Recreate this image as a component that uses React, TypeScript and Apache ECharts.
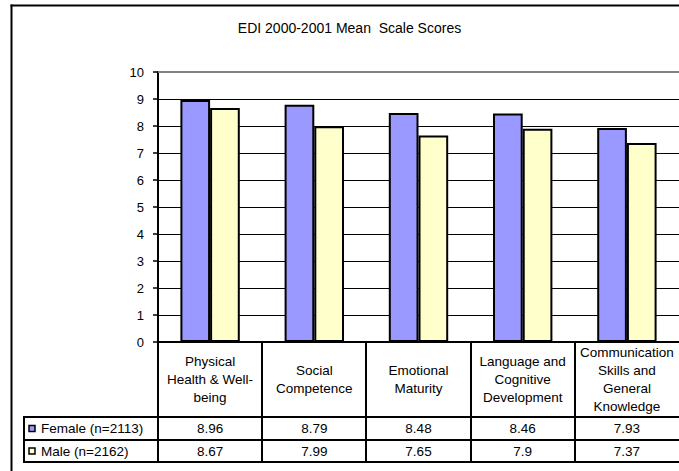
import React, { useEffect, useRef } from "react";
import * as echarts from "echarts";

// Scale names (multi-line as printed in the table header)
const categories = [
  "Physical\nHealth & Well-\nbeing",
  "Social\nCompetence",
  "Emotional\nMaturity",
  "Language and\nCognitive\nDevelopment",
  "Communication\nSkills and\nGeneral\nKnowledge",
];
const femaleScores = [8.96, 8.79, 8.48, 8.46, 7.93];
const maleScores = [8.67, 7.99, 7.65, 7.9, 7.37];
const seriesNames = ["Female (n=2113)", "Male (n=2162)"];
const seriesColors = ["#9999FF", "#FFFFCC"];
const yMin = 0;
const yMax = 10;
const yInterval = 1;
const chartTitle = "EDI 2000-2001 Mean  Scale Scores";

const FONT = "'Liberation Sans', Arial, sans-serif";
const TABLE_FONT_SIZE = 13.5;

export default function App() {
  const ref = useRef<HTMLDivElement>(null);

  useEffect(() => {
    if (!ref.current) return;
    const chart = echarts.init(ref.current, undefined, { renderer: "svg" });

    const gridLeft = 158;
    const gridTop = 72;
    const gridWidth = 523;
    const gridHeight = 270;
    const axisY = gridTop + gridHeight; // 342
    const headerBottom = 417;
    const rowBottoms = [440, 462];
    const tableLeft = 24;
    const pageRight = 679;

    chart.setOption({
      animation: false,
      backgroundColor: "#fff",
      textStyle: { fontFamily: FONT },
      grid: {
        left: gridLeft,
        top: gridTop,
        width: gridWidth,
        height: gridHeight,
        containLabel: false,
      },
      xAxis: {
        type: "category",
        data: categories,
        boundaryGap: true,
        axisLine: { show: true, lineStyle: { color: "#000", width: 2 } },
        axisTick: { show: false },
        axisLabel: {
          interval: 0,
          margin: (headerBottom - axisY) / 2,
          verticalAlign: "middle",
          align: "center",
          color: "#000",
          fontSize: TABLE_FONT_SIZE,
          lineHeight: 18,
          fontFamily: FONT,
        },
        splitLine: { show: false },
      },
      yAxis: {
        type: "value",
        min: yMin,
        max: yMax,
        interval: yInterval,
        axisLine: { show: true, lineStyle: { color: "#000", width: 2 } },
        axisTick: { show: true, length: 5, lineStyle: { color: "#000", width: 1.5 } },
        axisLabel: { color: "#000", fontSize: 13, margin: 14, fontFamily: FONT },
        splitLine: { show: true, lineStyle: { color: "#000", width: 1 } },
      },
      series: [
        {
          name: seriesNames[0],
          type: "bar",
          data: femaleScores,
          barGap: "0%",
          barCategoryGap: "43%",
          itemStyle: { color: seriesColors[0], borderColor: "#000", borderWidth: 2 },
          markLine: {
            silent: true,
            symbol: "none",
            label: { show: false },
            lineStyle: { color: "#808080", width: 2, type: "solid" },
            data: [{ yAxis: yMax }],
          },
        },
        {
          name: seriesNames[1],
          type: "bar",
          data: maleScores,
          barGap: "0%",
          barCategoryGap: "43%",
          itemStyle: { color: seriesColors[1], borderColor: "#000", borderWidth: 2 },
        },
      ],
    });

    // Data table below the axis: column dividers, row labels, legend keys and values
    const rowValues = [femaleScores, maleScores];
    const rowTops = [headerBottom, rowBottoms[0]];
    const centers = categories.map((_, i) => chart.convertToPixel({ xAxisIndex: 0 }, i) as number);
    const band = centers[1] - centers[0];
    const elements: any[] = [];

    const hline = (x1: number, x2: number, y: number) => ({
      type: "line",
      shape: { x1, y1: y, x2, y2: y },
      style: { stroke: "#000", lineWidth: 2 },
      silent: true,
    });
    const vline = (x: number, y1: number, y2: number) => ({
      type: "line",
      shape: { x1: x, y1, x2: x, y2 },
      style: { stroke: "#000", lineWidth: 2 },
      silent: true,
    });

    // outer chart frame (top and left edges)
    elements.push(hline(10.5, pageRight, 5.5));
    elements.push(vline(11.5, 4.5, 471));

    elements.push({
      type: "text",
      x: 349.5,
      y: 28,
      style: {
        text: chartTitle,
        fill: "#000",
        font: `14px ${FONT}`,
        align: "center",
        verticalAlign: "middle",
      },
    });

    // vertical dividers at the category boundaries
    centers.forEach((c) => {
      elements.push(vline(Math.round(c - band / 2), axisY, rowBottoms[1] + 1));
    });

    [headerBottom, ...rowBottoms].forEach((y) => {
      elements.push(hline(tableLeft - 1, pageRight, y));
    });
    elements.push(vline(tableLeft, headerBottom, rowBottoms[1]));

    rowValues.forEach((vals, r) => {
      const cy = (rowTops[r] + rowBottoms[r]) / 2;
      elements.push({
        type: "rect",
        shape: { x: 29, y: cy - 3, width: 6, height: 6 },
        style: { fill: seriesColors[r], stroke: "#000", lineWidth: 1.5 },
        silent: true,
      });
      elements.push({
        type: "text",
        x: 41,
        y: cy,
        style: {
          text: seriesNames[r],
          fill: "#000",
          font: `${TABLE_FONT_SIZE}px ${FONT}`,
          align: "left",
          verticalAlign: "middle",
        },
      });
      vals.forEach((v, i) => {
        elements.push({
          type: "text",
          x: centers[i],
          y: cy,
          style: {
            text: String(v),
            fill: "#000",
            font: `${TABLE_FONT_SIZE}px ${FONT}`,
            align: "center",
            verticalAlign: "middle",
          },
        });
      });
    });

    chart.setOption({ graphic: { elements } });

    return () => chart.dispose();
  }, []);

  return (
    <div
      ref={ref}
      style={{ position: "fixed", left: 0, top: 0, width: 679, height: 471, background: "#fff" }}
    />
  );
}
